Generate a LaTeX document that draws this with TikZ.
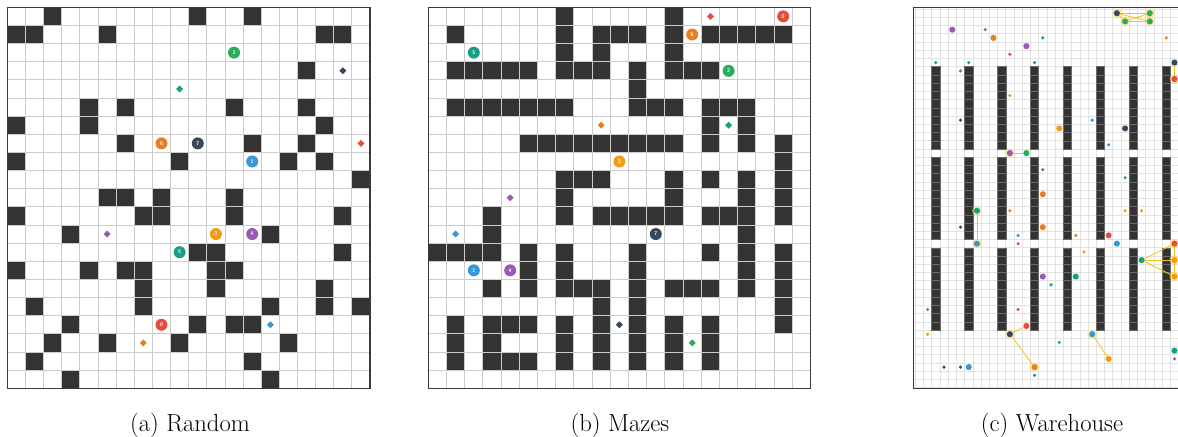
\documentclass[tikz,border=0pt]{standalone}
\usetikzlibrary{shapes.geometric}
\definecolor{cred}{HTML}{E74C3C}
\definecolor{cblue}{HTML}{3498DB}
\definecolor{cgreen}{HTML}{27AE60}
\definecolor{cteal}{HTML}{16A085}
\definecolor{corange}{HTML}{E67E22}
\definecolor{cyor}{HTML}{F39C12}
\definecolor{cpurple}{HTML}{9B59B6}
\definecolor{cnavy}{HTML}{34495E}
\definecolor{wallc}{HTML}{333333}
\definecolor{gridc}{HTML}{CCCCCC}
\definecolor{gridw}{HTML}{E2E2E2}
\definecolor{framec}{HTML}{3A3A3A}
\definecolor{shelfl}{HTML}{6A6A6A}
\definecolor{glowc}{HTML}{F7DC6F}
\definecolor{linkc}{HTML}{F1C40F}
\tikzset{
  wall/.style={fill=wallc},
  gridl/.style={draw=gridc, line width=0.7pt},
  gridlw/.style={draw=gridw, line width=0.45pt},
  frame/.style={draw=framec, line width=1.1pt},
  agent/.style={circle, inner sep=0pt, minimum size=9pt, text=white,
    font=\fontsize{4}{4}\selectfont\sffamily\bfseries},
  goal/.style={diamond, inner sep=0pt, minimum size=5.4pt},
  sagent/.style={circle, inner sep=0pt, minimum size=4.6pt},
  sgoal/.style={diamond, inner sep=0pt, minimum size=2.8pt},
  shelf/.style={fill=wallc, draw=shelfl, line width=0.35pt},
  glowing/.style={preaction={draw=glowc, line width=2.6pt, draw opacity=0.55}},
  link/.style={draw=linkc, line width=0.6pt},
  caption/.style={font=\fontsize{18.5}{22}\selectfont}
}
\begin{document}
\begin{tikzpicture}[x=0.75pt,y=-0.75pt]
\useasboundingbox (0,0) rectangle (1178,436);
\fill[white] (0,0) rectangle (1178,436);

% ---------------- (a) Random ----------------
\begin{scope}[shift={(7.3,7.3)}, x=13.605pt, y=-13.605pt]
  \foreach \r/\cl in {0/{2,10,13},1/{0,1,5,17,18},3/{16},5/{4,6,12,16},6/{0,4,17},
      7/{6,13,16},8/{0,9,15,17},9/{19},10/{5,6,8,12},11/{0,7,8,12,18},12/{3,14},
      13/{10,11,18},14/{0,4,6,7,11,12},15/{7,11,17},16/{1,7,14,17,19},
      17/{3,10,12,13},18/{2,5,9,15},19/{1,13},20/{3,14}}{
    \foreach \c in \cl {\fill[wall] (\c,\r) rectangle ++(1,1);}
  }
  \foreach \i in {1,...,19} {\draw[gridl] (\i,0) -- (\i,21);}
  \foreach \j in {1,...,20} {\draw[gridl] (0,\j) -- (20,\j);}
  \draw[frame] (0,0) rectangle (20,21);
  \node[goal,fill=cteal] (ag5) at (9.5,4.5) {};
  \node[goal,fill=cnavy] (ag7) at (18.5,3.5) {};
  \node[goal,fill=cred] (ag0) at (19.5,7.5) {};
  \node[goal,fill=cpurple] (ag4) at (5.5,12.5) {};
  \node[goal,fill=corange] (ag6) at (7.5,18.5) {};
  \node[goal,fill=cblue] (ag1) at (14.5,17.5) {};
  \node[agent,fill=cgreen] (a2) at (12.5,2.5) {2};
  \node[agent,fill=corange] (a6) at (8.5,7.5) {6};
  \node[agent,fill=cnavy] (a7) at (10.5,7.5) {7};
  \node[agent,fill=cblue] (a1) at (13.5,8.5) {1};
  \node[agent,fill=cyor] (a3) at (11.5,12.5) {3};
  \node[agent,fill=cpurple] (a4) at (13.5,12.5) {4};
  \node[agent,fill=cteal] (a5) at (9.5,13.5) {5};
  \node[agent,fill=cred] (a0) at (8.5,17.5) {0};
\end{scope}

% ---------------- (b) Mazes ----------------
\begin{scope}[shift={(428.3,7.3)}, x=13.65pt, y=-13.605pt]
  \foreach \r/\cl in {0/{7,13},1/{1,7,9,10,11,13,15,16,17,18,19},2/{7,9,13},
      3/{1,2,3,4,5,7,8,9,11,13,14,15},4/{11},5/{1,2,3,4,5,6,7,11,12,13,15,16,17},
      6/{15,17},7/{5,6,7,8,9,10,11,12,13,15,17,19},8/{19},9/{7,8,9,13,15,17,19},
      10/{7,13,17,19},11/{3,7,9,10,11,12,13,15,16,17,19},12/{3,17},
      13/{0,1,2,3,5,7,11,15,17,19},14/{5,7,11,17,19},15/{3,5,7,8,9,11,13,14,15,17,19},
      16/{9,11,19},17/{1,3,4,5,7,9,11,13,15,19},18/{1,3,7,9,11,13,15},
      19/{1,3,4,5,7,9,11,13,15}}{
    \foreach \c in \cl {\fill[wall] (\c,\r) rectangle ++(1,1);}
  }
  \foreach \i in {1,...,20} {\draw[gridl] (\i,0) -- (\i,21);}
  \foreach \j in {1,...,20} {\draw[gridl] (0,\j) -- (21,\j);}
  \draw[frame] (0,0) rectangle (21,21);
  \node[goal,fill=cred] (bg0) at (15.5,0.5) {};
  \node[goal,fill=corange] (bg6) at (9.5,6.5) {};
  \node[goal,fill=cteal] (bg5) at (16.5,6.5) {};
  \node[goal,fill=cpurple] (bg4) at (4.5,10.5) {};
  \node[goal,fill=cblue] (bg1) at (1.5,12.5) {};
  \node[goal,fill=cnavy] (bg7) at (10.5,17.5) {};
  \node[goal,fill=cgreen] (bg2) at (14.5,18.5) {};
  \node[agent,fill=cteal] (b5) at (2.5,2.5) {5};
  \node[agent,fill=corange] (b6) at (14.5,1.5) {6};
  \node[agent,fill=cred] (b0) at (19.5,0.5) {0};
  \node[agent,fill=cgreen] (b2) at (16.5,3.5) {2};
  \node[agent,fill=cyor] (b3) at (10.5,8.5) {3};
  \node[agent,fill=cnavy] (b7) at (12.5,12.5) {7};
  \node[agent,fill=cblue] (b1) at (2.5,14.5) {1};
  \node[agent,fill=cpurple] (b4) at (4.5,14.5) {4};
\end{scope}

% ---------------- (c) Warehouse ----------------
\begin{scope}[shift={(931.7,66.7)}, x=6.1725pt, y=-6.1725pt]
  \begin{scope}
    \clip (-2.3,-7.3) rectangle (29.93,39.1);
    \foreach \i in {-2,...,30} {\draw[gridlw] (\i,-7.25) -- (\i,39.08);}
    \foreach \j in {-7,...,39} {\draw[gridlw] (-2.24,\j) -- (30,\j);}
    \foreach \u in {0,4,...,28} {
      \foreach \v in {0,...,9,11,12,...,20,22,23,...,31} {
        \draw[shelf] (\u,\v) rectangle ++(1,1);
      }
    }
    \draw[frame] (-2.24,-7.22) rectangle (32,39.08);
    % goals
    \node[sgoal,fill=cpurple] (cg1) at (6.5,-4.5) {};
    \node[sgoal,fill=cteal] (cg2) at (13.5,-3.5) {};
    \node[sgoal,fill=cred] (cg3) at (9.5,-1.5) {};
    \node[sgoal,fill=cteal] (cg4) at (0.5,-0.5) {};
    \node[sgoal,fill=cteal] (cg5) at (4.5,-0.5) {};
    \node[sgoal,fill=cteal] (cg6) at (12.5,-0.5) {};
    \node[sgoal,fill=cpurple] (cg7) at (3.5,0.5) {};
    \node[sgoal,fill=cyor] (cg8) at (9.5,3.5) {};
    \node[sgoal,fill=cnavy] (cg9) at (3.5,6.5) {};
    \node[sgoal,fill=corange] (cg10) at (28.5,-3.5) {};
    \node[sgoal,fill=cblue] (cg11) at (19.5,6.5) {};
    \node[sgoal,fill=cblue] (cg12) at (21.5,9.5) {};
    \node[sgoal,fill=cpurple] (cg13) at (13.5,12.5) {};
    \node[sgoal,fill=cgreen] (cg14) at (23.5,13.5) {};
    \node[sgoal,fill=corange] (cg15) at (9.5,17.5) {};
    \node[sgoal,fill=cnavy] (cg16) at (3.5,19.5) {};
    \node[sgoal,fill=cblue] (cg17) at (10.5,20.5) {};
    \node[sgoal,fill=cred] (cg18) at (10.5,21.5) {};
    \node[sgoal,fill=cblue] (cg19) at (-0.5,29.5) {};
    \node[sgoal,fill=cred] (cg20) at (10.5,29.5) {};
    \node[sgoal,fill=cyor] (cg21) at (-0.5,32.5) {};
    \node[sgoal,fill=cnavy] (cg22) at (1.5,36.5) {};
    \node[sgoal,fill=cnavy] (cg23) at (3.5,36.5) {};
    \node[sgoal,fill=cteal] (cg24) at (12.5,37.5) {};
    \node[sgoal,fill=cyor] (cg25) at (23.5,17.5) {};
    \node[sgoal,fill=cyor] (cg26) at (25.5,17.5) {};
    \node[sgoal,fill=corange] (cg27) at (17.5,20.5) {};
    \node[sgoal,fill=cyor] (cg28) at (18.5,22.5) {};
    \node[sgoal,fill=cteal] (cg29) at (14.5,26.5) {};
    \node[sgoal,fill=cgreen] (cg30) at (15.5,33.5) {};
    \node[sgoal,fill=cpurple] (cg31) at (29.5,35.5) {};
    % agents
    \node[sagent,fill=cpurple] (p1) at (2.5,-4.5) {};
    \node[sagent,fill=corange] (o1) at (7.5,-3.5) {};
    \node[sagent,fill=cpurple] (p2) at (11.5,-2.5) {};
    \node[sagent,fill=cnavy,glowing] (n1) at (22.5,-6.5) {};
    \node[sagent,fill=cgreen,glowing] (g1) at (26.5,-6.5) {};
    \node[sagent,fill=cgreen,glowing] (g2) at (23.5,-5.5) {};
    \node[sagent,fill=cgreen,glowing] (g3) at (26.5,-5.5) {};
    \node[sagent,fill=cnavy] (n2) at (29.5,-0.5) {};
    \node[sagent,fill=cred,glowing] (r1) at (29.5,1.5) {};
    \node[sagent,fill=cyor] (o2) at (15.5,7.5) {};
    \node[sagent,fill=cnavy] (n3) at (23.5,7.5) {};
    \node[sagent,fill=cpurple,glowing] (p3) at (9.5,10.5) {};
    \node[sagent,fill=cgreen] (g4) at (11.5,10.5) {};
    \node[sagent,fill=corange] (o3) at (13.5,15.5) {};
    \node[sagent,fill=cteal,glowing] (t1) at (5.5,17.5) {};
    \node[sagent,fill=corange] (o4) at (13.5,19.5) {};
    \node[sagent,fill=cblue,glowing] (b1c) at (5.5,21.5) {};
    \node[sagent,fill=cred] (r2) at (21.5,20.5) {};
    \node[sagent,fill=cblue] (b2c) at (22.5,21.5) {};
    \node[sagent,fill=cred,glowing] (r3) at (29.5,21.5) {};
    \node[sagent,fill=cteal] (t2) at (25.5,23.5) {};
    \node[sagent,fill=cyor,glowing] (o5) at (29.5,23.5) {};
    \node[sagent,fill=cyor,glowing] (o6) at (29.5,25.5) {};
    \node[sagent,fill=cpurple] (p4) at (13.5,25.5) {};
    \node[sagent,fill=cteal] (t3) at (17.5,25.5) {};
    \node[sagent,fill=cred] (r4) at (11.5,31.5) {};
    \node[sagent,fill=cnavy,glowing] (n4) at (9.5,32.5) {};
    \node[sagent,fill=cblue,glowing] (b3c) at (19.5,32.5) {};
    \node[sagent,fill=corange,glowing] (o7) at (12.5,36.5) {};
    \node[sagent,fill=cblue] (b4c) at (4.5,36.5) {};
    \node[sagent,fill=cyor] (o8) at (21.5,35.5) {};
    \node[sagent,fill=cteal] (t4) at (29.5,34.5) {};
    % links
    \draw[link] (p3) -- (g4);
    \draw[link] (n1) -- (g1);
    \draw[link] (n1) -- (g2);
    \draw[link] (n1) -- (g3);
    \draw[link] (g2) -- (g1);
    \draw[link] (g2) -- (g3);
    \draw[link] (g1) -- (g3);
    \draw[link] (n2) -- (r1);
    \draw[link] (t1) -- (b1c);
    \draw[link] (r4) -- (n4);
    \draw[link] (n4) -- (o7);
    \draw[link] (t2) -- (r3);
    \draw[link] (t2) -- (o5);
    \draw[link] (t2) -- (o6);
    \draw[link] (r3) -- (o5);
    \draw[link] (o5) -- (o6);
    \draw[link] (b3c) -- (o8);
  \end{scope}
\end{scope}

% ---------------- captions ----------------
\node[caption] (capa) at (190,425) {(a) Random};
\node[caption] (capb) at (620,425) {(b) Mazes};
\node[caption] (capc) at (1052,425) {(c) Warehouse};
\end{tikzpicture}
\end{document}
